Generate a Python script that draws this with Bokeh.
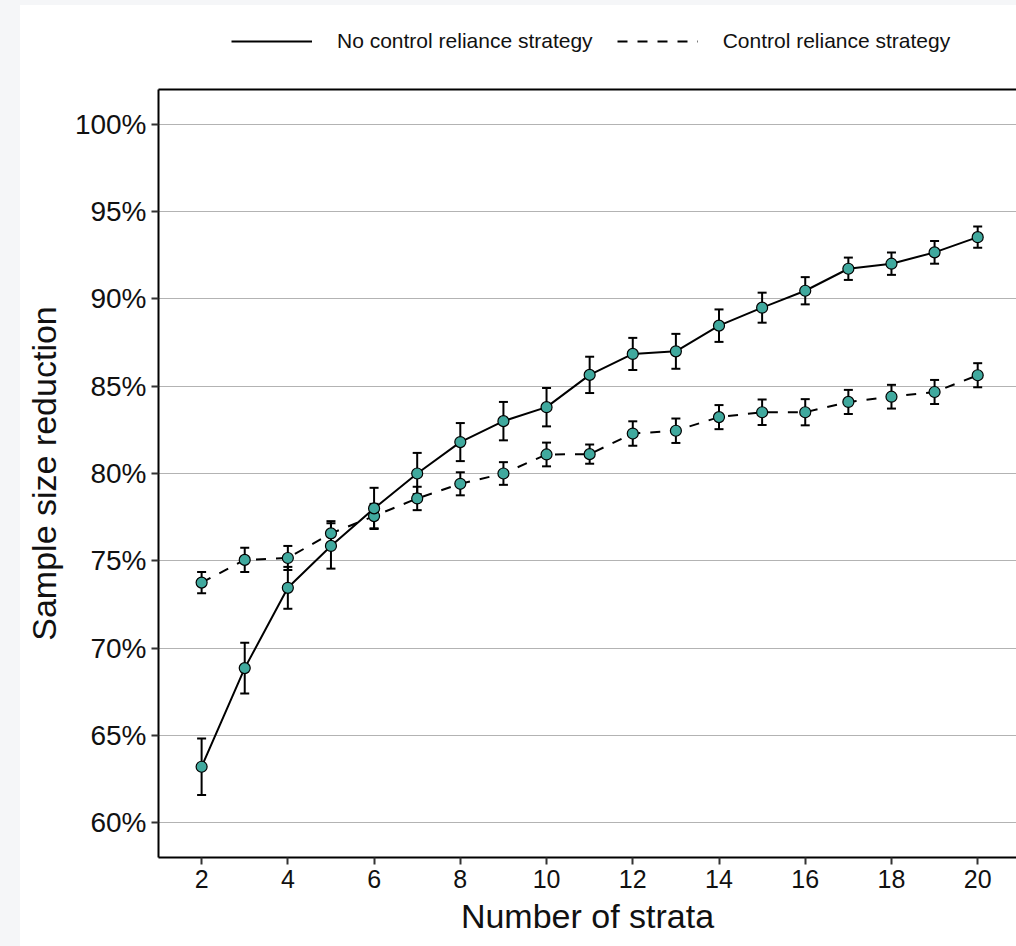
from bokeh.plotting import figure
from bokeh.models import (Range1d, FixedTicker, PrintfTickFormatter, LinearAxis,
                          Whisker, TeeHead, ColumnDataSource, Legend, LegendItem)
from bokeh.layouts import column
from bokeh.embed import file_html
from bokeh.resources import INLINE

# ---- data ----
strata = list(range(2, 21))
no_ctrl = [63.2, 68.85, 73.45, 75.85, 78.0, 80.0, 81.8, 83.0, 83.8, 85.65,
           86.85, 87.0, 88.47, 89.5, 90.47, 91.73, 92.02, 92.67, 93.54]
no_ctrl_err = [1.62, 1.45, 1.2, 1.3, 1.18, 1.18, 1.09, 1.1, 1.1, 1.04,
               0.92, 1.0, 0.93, 0.86, 0.78, 0.64, 0.64, 0.65, 0.61]
ctrl = [73.75, 75.05, 75.16, 76.57, 77.56, 78.57, 79.41, 80.0, 81.09, 81.11,
        82.29, 82.45, 83.23, 83.51, 83.51, 84.10, 84.40, 84.67, 85.63]
ctrl_err = [0.61, 0.7, 0.69, 0.7, 0.7, 0.67, 0.66, 0.65, 0.68, 0.55,
            0.7, 0.7, 0.69, 0.73, 0.75, 0.69, 0.68, 0.69, 0.69]
y_ticks = [60, 65, 70, 75, 80, 85, 90, 95, 100]
x_ticks = [2, 4, 6, 8, 10, 12, 14, 16, 18, 20]
label_a = "No control reliance strategy"
label_b = "Control reliance strategy"

FONT = "Liberation Sans"
MARK = "#40a99e"
DASH = "10 10"

src_a = ColumnDataSource(dict(x=strata, y=no_ctrl,
                              lo=[v - e for v, e in zip(no_ctrl, no_ctrl_err)],
                              hi=[v + e for v, e in zip(no_ctrl, no_ctrl_err)]))
src_b = ColumnDataSource(dict(x=strata, y=ctrl,
                              lo=[v - e for v, e in zip(ctrl, ctrl_err)],
                              hi=[v + e for v, e in zip(ctrl, ctrl_err)]))

# ---------- legend strip (its series lie outside its ranges; only the key shows) ----------
lg = figure(width=996, height=80, output_backend="svg", toolbar_location=None,
            x_range=Range1d(-3, -2), y_range=Range1d(0, 1),
            min_border=0, min_border_left=0, min_border_right=0,
            min_border_top=0, min_border_bottom=0)
lg.axis.visible = False
lg.grid.visible = False
lg.outline_line_color = None
lg.background_fill_color = "white"
lg.border_fill_color = "white"
da = lg.line(x=strata, y=no_ctrl, line_color="black", line_width=2)
db = lg.line(x=strata, y=ctrl, line_color="black", line_width=2, line_dash=DASH)
legend = Legend(items=[LegendItem(label=label_a, renderers=[da]),
                       LegendItem(label=label_b, renderers=[db])],
                location=(73, 32), orientation="horizontal",
                glyph_width=81, glyph_height=20, label_standoff=25,
                spacing=24, padding=0, margin=0,
                border_line_color=None, background_fill_alpha=0,
                label_text_font=FONT, label_text_font_size="21px",
                label_text_color="#111111")
lg.add_layout(legend)

# ---------- main chart ----------
p = figure(width=996, height=861, output_backend="svg", toolbar_location=None,
           x_range=Range1d(1, 20.9), y_range=Range1d(58, 102),
           min_border_left=138, min_border_right=0, min_border_top=4,
           min_border_bottom=89)
p.outline_line_color = None
p.background_fill_color = "white"
p.border_fill_color = "white"

p.xgrid.visible = False
p.ygrid.ticker = FixedTicker(ticks=y_ticks)
p.ygrid.grid_line_color = "#b3b3b3"
p.ygrid.grid_line_width = 1

xa = p.xaxis[0]
xa.ticker = FixedTicker(ticks=x_ticks)
xa.axis_label = "Number of strata"
ya = p.yaxis[0]
ya.ticker = FixedTicker(ticks=y_ticks)
ya.formatter = PrintfTickFormatter(format="%d%%")
ya.axis_label = "Sample size reduction"
for ax, fs in ((xa, "25px"), (ya, "28px")):
    ax.axis_line_color = "black"
    ax.axis_line_width = 2
    ax.major_tick_line_color = "#333333"
    ax.major_tick_line_width = 2
    ax.major_tick_out = 7
    ax.major_tick_in = 0
    ax.minor_tick_line_color = None
    ax.major_label_text_font = FONT
    ax.major_label_text_font_size = fs
    ax.major_label_text_color = "#111111"
    ax.axis_label_text_font = FONT
    ax.axis_label_text_font_size = "34px"
    ax.axis_label_text_font_style = "normal"
    ax.axis_label_text_color = "#111111"
xa.major_label_standoff = 5
xa.axis_label_standoff = 6
ya.major_label_standoff = 5
ya.axis_label_standoff = 9

top = LinearAxis(ticker=FixedTicker(ticks=[]), axis_line_width=2,
                 axis_line_color="black", major_label_text_font_size="0px",
                 major_tick_line_color=None, minor_tick_line_color=None,
                 major_tick_out=0, major_tick_in=0, major_label_standoff=0)
p.add_layout(top, "above")

rb = p.line("x", "y", source=src_b, line_color="black", line_width=2,
            line_dash=DASH)
ra = p.line("x", "y", source=src_a, line_color="black", line_width=2)
for src in (src_b, src_a):
    p.add_layout(Whisker(base="x", lower="lo", upper="hi", source=src,
                         line_color="black", line_width=2,
                         upper_head=TeeHead(size=9, line_width=2, line_color="black"),
                         lower_head=TeeHead(size=9, line_width=2, line_color="black")))
p.scatter("x", "y", source=src_b, size=11, fill_color=MARK,
          line_color="black", line_width=1.2)
p.scatter("x", "y", source=src_a, size=11, fill_color=MARK,
          line_color="black", line_width=1.2)

inner = column(lg, p, spacing=0, styles={"background-color": "white"})
inner.margin = (5, 0, 0, 20)
layout = column(inner, styles={"background-color": "#f5f6f8"})
open("out.html", "w").write(file_html(layout, INLINE))
